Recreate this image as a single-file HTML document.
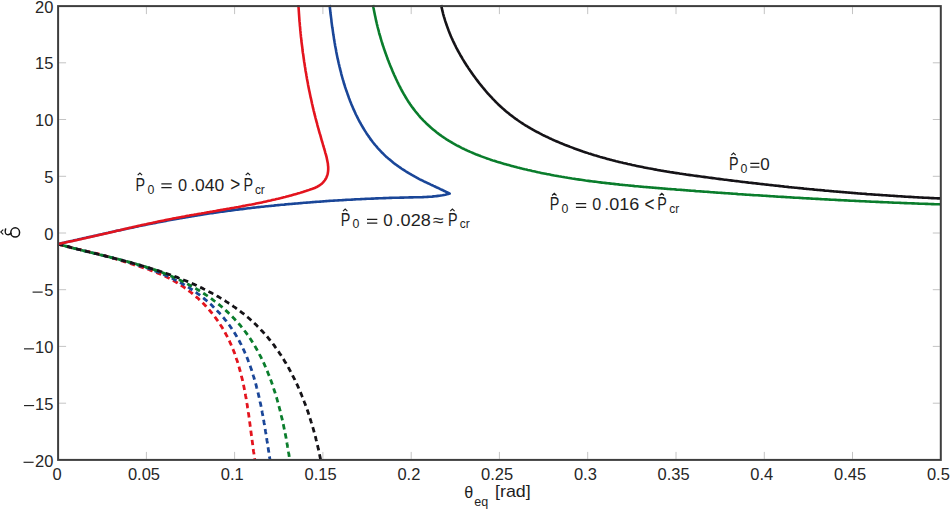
<!DOCTYPE html>
<html><head><meta charset="utf-8"><style>
html,body{margin:0;padding:0;background:#fff;width:951px;height:511px;overflow:hidden}
svg{display:block}
text{font-family:"Liberation Sans",sans-serif}
</style></head><body>
<svg width="951" height="511" viewBox="0 0 951 511">
<rect width="951" height="511" fill="#fff"/>
<g stroke="#c4c4c4" stroke-width="1" fill="none">
<path d="M146.4,458.9 V451.9"/><path d="M146.4,7.1 V14.1"/>
<path d="M234.6,458.9 V451.9"/><path d="M234.6,7.1 V14.1"/>
<path d="M322.9,458.9 V451.9"/><path d="M322.9,7.1 V14.1"/>
<path d="M411.2,458.9 V451.9"/><path d="M411.2,7.1 V14.1"/>
<path d="M499.4,458.9 V451.9"/><path d="M499.4,7.1 V14.1"/>
<path d="M587.7,458.9 V451.9"/><path d="M587.7,7.1 V14.1"/>
<path d="M676.0,458.9 V451.9"/><path d="M676.0,7.1 V14.1"/>
<path d="M764.3,458.9 V451.9"/><path d="M764.3,7.1 V14.1"/>
<path d="M852.5,458.9 V451.9"/><path d="M852.5,7.1 V14.1"/>
<path d="M59.1,62.8 H66.1"/><path d="M939.8,62.8 H932.8"/>
<path d="M59.1,119.5 H66.1"/><path d="M939.8,119.5 H932.8"/>
<path d="M59.1,176.3 H66.1"/><path d="M939.8,176.3 H932.8"/>
<path d="M59.1,233.0 H66.1"/><path d="M939.8,233.0 H932.8"/>
<path d="M59.1,289.7 H66.1"/><path d="M939.8,289.7 H932.8"/>
<path d="M59.1,346.4 H66.1"/><path d="M939.8,346.4 H932.8"/>
<path d="M59.1,403.2 H66.1"/><path d="M939.8,403.2 H932.8"/>
</g>
<g fill="none" stroke-width="2.6" stroke-linejoin="round" stroke-linecap="butt">
<path stroke="#e3141e" stroke-width="2.8" stroke-dasharray="5.4,3.9" d="M58.1,244.0 59.5,244.4 61.0,244.9 62.5,245.3 63.9,245.7 65.4,246.1 66.8,246.5 68.3,246.9 69.8,247.2 71.2,247.6 72.7,247.9 74.2,248.3 75.6,248.6 77.1,249.0 78.6,249.3 80.0,249.6 81.5,250.0 83.0,250.3 84.5,250.6 85.9,251.0 87.4,251.3 88.9,251.6 90.3,252.0 91.8,252.3 93.3,252.7 94.7,253.0 96.2,253.4 97.6,253.7 99.1,254.1 100.5,254.5 102.0,254.9 103.4,255.3 104.9,255.7 106.3,256.1 107.8,256.5 109.2,257.0 110.6,257.4 112.1,257.9 113.5,258.3 114.9,258.7 116.4,259.2 117.8,259.7 119.2,260.1 120.7,260.6 122.1,261.0 123.6,261.5 125.0,261.9 126.4,262.4 127.9,262.8 129.3,263.3 130.8,263.7 132.2,264.2 133.7,264.6 135.1,265.1 136.5,265.5 138.0,266.0 139.4,266.4 140.9,266.9 142.3,267.4 143.7,267.9 145.2,268.3 146.6,268.8 148.0,269.3 149.4,269.8 150.8,270.4 152.3,270.9 153.7,271.4 155.1,272.0 156.5,272.5 157.9,273.1 159.3,273.7 160.6,274.3 162.0,274.9 163.4,275.5 164.8,276.1 166.1,276.8 167.5,277.4 168.8,278.1 170.2,278.8 171.5,279.5 172.8,280.2 174.1,281.0 175.4,281.7 176.7,282.5 178.0,283.3 179.3,284.1 180.6,284.9 181.8,285.8 183.1,286.6 184.3,287.5 185.6,288.3 186.8,289.2 188.0,290.1 189.2,291.1 190.4,292.0 191.6,292.9 192.8,293.9 193.9,294.9 195.1,295.8 196.2,296.8 197.4,297.8 198.5,298.8 199.6,299.9 200.7,300.9 201.8,302.0 202.8,303.0 203.9,304.1 205.0,305.2 206.0,306.3 207.0,307.4 208.0,308.5 209.0,309.7 210.0,310.8 211.0,312.0 211.9,313.1 212.9,314.3 213.8,315.5 214.7,316.7 215.6,317.9 216.5,319.1 217.4,320.3 218.3,321.5 219.1,322.8 219.9,324.0 220.7,325.3 221.5,326.5 222.3,327.8 223.1,329.1 223.9,330.4 224.6,331.7 225.3,333.0 226.0,334.3 226.7,335.6 227.4,336.9 228.1,338.3 228.7,339.6 229.4,340.9 230.0,342.3 230.6,343.6 231.2,345.0 231.8,346.4 232.4,347.8 232.9,349.1 233.5,350.5 234.0,351.9 234.6,353.3 235.1,354.7 235.6,356.1 236.1,357.6 236.5,359.0 237.0,360.4 237.5,361.8 237.9,363.3 238.4,364.7 238.8,366.2 239.2,367.6 239.6,369.1 240.0,370.5 240.4,372.0 240.8,373.4 241.2,374.9 241.5,376.4 241.9,377.8 242.3,379.3 242.6,380.8 242.9,382.3 243.3,383.8 243.6,385.3 243.9,386.8 244.2,388.2 244.5,389.7 244.8,391.2 245.1,392.7 245.4,394.2 245.6,395.7 245.9,397.2 246.2,398.8 246.4,400.3 246.7,401.8 246.9,403.3 247.2,404.8 247.4,406.3 247.6,407.8 247.9,409.3 248.1,410.8 248.3,412.3 248.6,413.9 248.8,415.4 249.0,416.9 249.2,418.4 249.4,419.9 249.6,421.4 249.8,422.9 250.0,424.4 250.2,425.9 250.4,427.4 250.6,428.9 250.8,430.5 251.0,432.0 251.2,433.5 251.4,435.0 251.6,436.4 251.8,437.9 252.0,439.4 252.2,440.9 252.4,442.4 252.6,443.9 252.8,445.4 252.9,446.9 253.1,448.3 253.3,449.8 253.5,451.3 253.8,452.7 254.0,454.2 254.2,455.6 254.4,457.1 254.6,458.6 254.8,460.0"/>
<path stroke="#1a4698" stroke-width="2.8" stroke-dasharray="5.4,3.9" stroke-dashoffset="2" d="M58.1,244.0 59.5,244.4 61.0,244.8 62.4,245.2 63.9,245.6 65.3,246.0 66.8,246.4 68.2,246.7 69.7,247.1 71.1,247.5 72.6,247.9 74.0,248.2 75.5,248.6 76.9,249.0 78.4,249.3 79.8,249.7 81.3,250.1 82.7,250.4 84.2,250.8 85.7,251.1 87.1,251.5 88.6,251.9 90.0,252.2 91.5,252.6 93.0,252.9 94.4,253.3 95.9,253.7 97.4,254.0 98.8,254.4 100.3,254.7 101.8,255.1 103.2,255.5 104.7,255.8 106.2,256.2 107.6,256.6 109.1,257.0 110.6,257.3 112.0,257.7 113.5,258.1 115.0,258.5 116.4,258.9 117.9,259.3 119.4,259.6 120.8,260.0 122.3,260.4 123.7,260.8 125.2,261.3 126.7,261.7 128.1,262.1 129.6,262.5 131.1,262.9 132.5,263.4 134.0,263.8 135.4,264.3 136.9,264.7 138.3,265.2 139.8,265.6 141.2,266.1 142.7,266.6 144.1,267.1 145.5,267.5 147.0,268.0 148.4,268.5 149.8,269.0 151.3,269.6 152.7,270.1 154.1,270.6 155.5,271.2 156.9,271.7 158.4,272.3 159.8,272.8 161.2,273.4 162.6,274.0 163.9,274.6 165.3,275.2 166.7,275.8 168.1,276.4 169.5,277.1 170.8,277.7 172.2,278.3 173.5,279.0 174.9,279.7 176.2,280.4 177.6,281.1 178.9,281.8 180.2,282.5 181.5,283.2 182.8,284.0 184.1,284.7 185.4,285.5 186.7,286.3 188.0,287.0 189.3,287.8 190.5,288.7 191.8,289.5 193.0,290.3 194.3,291.2 195.5,292.0 196.7,292.9 197.9,293.8 199.2,294.7 200.3,295.6 201.5,296.5 202.7,297.5 203.9,298.4 205.0,299.4 206.2,300.3 207.3,301.3 208.5,302.3 209.6,303.3 210.7,304.3 211.8,305.3 212.9,306.4 213.9,307.4 215.0,308.5 216.1,309.5 217.1,310.6 218.1,311.7 219.2,312.8 220.2,313.9 221.2,315.0 222.2,316.1 223.1,317.3 224.1,318.4 225.0,319.6 226.0,320.7 226.9,321.9 227.8,323.1 228.7,324.3 229.6,325.5 230.4,326.7 231.3,328.0 232.1,329.2 233.0,330.4 233.8,331.7 234.6,332.9 235.4,334.2 236.1,335.5 236.9,336.8 237.6,338.1 238.4,339.4 239.1,340.7 239.8,342.0 240.5,343.4 241.2,344.7 241.8,346.0 242.5,347.4 243.1,348.7 243.8,350.1 244.4,351.5 245.0,352.9 245.6,354.2 246.2,355.6 246.8,357.0 247.3,358.4 247.9,359.8 248.4,361.2 249.0,362.7 249.5,364.1 250.0,365.5 250.5,366.9 251.0,368.4 251.5,369.8 252.0,371.3 252.4,372.7 252.9,374.1 253.3,375.6 253.8,377.1 254.2,378.5 254.6,380.0 255.1,381.4 255.5,382.9 255.9,384.4 256.3,385.9 256.6,387.3 257.0,388.8 257.4,390.3 257.8,391.8 258.1,393.2 258.5,394.7 258.8,396.2 259.2,397.7 259.5,399.2 259.8,400.7 260.1,402.1 260.5,403.6 260.8,405.1 261.1,406.6 261.4,408.1 261.7,409.6 262.0,411.1 262.2,412.5 262.5,414.0 262.8,415.5 263.1,417.0 263.3,418.5 263.6,420.0 263.9,421.5 264.1,423.0 264.4,424.4 264.6,425.9 264.9,427.4 265.1,428.9 265.4,430.4 265.6,431.9 265.9,433.4 266.1,434.8 266.3,436.3 266.6,437.8 266.8,439.3 267.0,440.8 267.3,442.3 267.5,443.7 267.7,445.2 267.9,446.7 268.2,448.2 268.4,449.7 268.6,451.1 268.9,452.6 269.1,454.1 269.3,455.6 269.5,457.1 269.8,458.5 270.0,460.0"/>
<path stroke="#0a7d2c" stroke-width="2.8" stroke-dasharray="5.4,3.9" stroke-dashoffset="4" d="M58.1,244.0 59.5,244.4 61.0,244.8 62.4,245.2 63.8,245.6 65.3,246.0 66.7,246.4 68.2,246.8 69.6,247.2 71.0,247.5 72.5,247.9 73.9,248.3 75.4,248.7 76.9,249.0 78.3,249.4 79.8,249.8 81.2,250.1 82.7,250.5 84.2,250.8 85.6,251.2 87.1,251.6 88.5,251.9 90.0,252.3 91.5,252.6 93.0,253.0 94.4,253.3 95.9,253.7 97.4,254.0 98.8,254.4 100.3,254.8 101.8,255.1 103.3,255.5 104.7,255.8 106.2,256.2 107.7,256.5 109.1,256.9 110.6,257.3 112.1,257.6 113.6,258.0 115.0,258.4 116.5,258.7 118.0,259.1 119.4,259.5 120.9,259.9 122.4,260.2 123.9,260.6 125.3,261.0 126.8,261.4 128.3,261.8 129.7,262.2 131.2,262.6 132.6,263.0 134.1,263.4 135.6,263.8 137.0,264.3 138.5,264.7 139.9,265.1 141.4,265.6 142.8,266.0 144.3,266.4 145.7,266.9 147.2,267.4 148.6,267.8 150.0,268.3 151.5,268.8 152.9,269.3 154.3,269.7 155.8,270.2 157.2,270.7 158.6,271.3 160.0,271.8 161.4,272.3 162.9,272.8 164.3,273.4 165.7,273.9 167.1,274.5 168.5,275.1 169.9,275.6 171.3,276.2 172.6,276.8 174.0,277.4 175.4,278.0 176.8,278.6 178.2,279.3 179.5,279.9 180.9,280.6 182.3,281.2 183.6,281.9 185.0,282.6 186.3,283.3 187.6,284.0 189.0,284.7 190.3,285.4 191.6,286.1 193.0,286.9 194.3,287.6 195.6,288.4 196.9,289.2 198.2,289.9 199.5,290.7 200.8,291.5 202.0,292.4 203.3,293.2 204.6,294.0 205.8,294.8 207.1,295.7 208.3,296.5 209.6,297.4 210.8,298.3 212.0,299.2 213.2,300.1 214.4,301.0 215.6,301.9 216.8,302.8 218.0,303.8 219.1,304.7 220.3,305.7 221.5,306.6 222.6,307.6 223.7,308.6 224.9,309.6 226.0,310.6 227.1,311.6 228.2,312.6 229.2,313.7 230.3,314.7 231.4,315.8 232.4,316.8 233.5,317.9 234.5,319.0 235.5,320.1 236.5,321.2 237.5,322.3 238.5,323.4 239.5,324.5 240.5,325.7 241.4,326.8 242.4,328.0 243.3,329.1 244.2,330.3 245.1,331.5 246.0,332.7 246.9,333.9 247.8,335.1 248.6,336.3 249.5,337.6 250.3,338.8 251.1,340.0 251.9,341.3 252.7,342.6 253.5,343.8 254.3,345.1 255.1,346.4 255.8,347.7 256.6,349.0 257.3,350.3 258.0,351.6 258.7,352.9 259.4,354.3 260.1,355.6 260.8,356.9 261.5,358.3 262.1,359.6 262.8,361.0 263.4,362.4 264.1,363.7 264.7,365.1 265.3,366.5 265.9,367.9 266.5,369.3 267.1,370.7 267.7,372.1 268.2,373.5 268.8,374.9 269.4,376.3 269.9,377.7 270.4,379.2 271.0,380.6 271.5,382.0 272.0,383.5 272.5,384.9 273.0,386.3 273.5,387.8 273.9,389.2 274.4,390.7 274.9,392.2 275.3,393.6 275.8,395.1 276.2,396.6 276.7,398.0 277.1,399.5 277.5,401.0 277.9,402.4 278.3,403.9 278.7,405.4 279.1,406.9 279.5,408.4 279.9,409.8 280.3,411.3 280.6,412.8 281.0,414.3 281.3,415.8 281.7,417.3 282.0,418.7 282.4,420.2 282.7,421.7 283.0,423.2 283.4,424.7 283.7,426.2 284.0,427.7 284.3,429.2 284.6,430.6 284.9,432.1 285.2,433.6 285.5,435.1 285.8,436.6 286.1,438.1 286.3,439.5 286.6,441.0 286.9,442.5 287.1,444.0 287.4,445.4 287.6,446.9 287.9,448.4 288.1,449.8 288.4,451.3 288.6,452.8 288.9,454.2 289.1,455.7 289.3,457.1 289.6,458.6 289.8,460.0"/>
<path stroke="#151317" stroke-width="2.8" stroke-dasharray="5.4,3.9" stroke-dashoffset="0" d="M58.1,244.0 59.6,244.4 61.0,244.8 62.5,245.2 63.9,245.6 65.4,246.0 66.8,246.3 68.3,246.7 69.7,247.1 71.2,247.5 72.6,247.9 74.1,248.2 75.6,248.6 77.0,249.0 78.5,249.4 79.9,249.7 81.4,250.1 82.9,250.5 84.3,250.8 85.8,251.2 87.3,251.6 88.7,251.9 90.2,252.3 91.7,252.6 93.1,253.0 94.6,253.4 96.1,253.7 97.5,254.1 99.0,254.5 100.4,254.8 101.9,255.2 103.4,255.6 104.8,255.9 106.3,256.3 107.8,256.7 109.2,257.0 110.7,257.4 112.2,257.8 113.6,258.1 115.1,258.5 116.6,258.9 118.0,259.3 119.5,259.6 121.0,260.0 122.4,260.4 123.9,260.8 125.3,261.2 126.8,261.6 128.3,261.9 129.7,262.3 131.2,262.7 132.6,263.1 134.1,263.5 135.6,263.9 137.0,264.3 138.5,264.8 139.9,265.2 141.4,265.6 142.8,266.0 144.3,266.4 145.7,266.9 147.2,267.3 148.6,267.7 150.1,268.2 151.5,268.6 153.0,269.1 154.4,269.5 155.8,270.0 157.3,270.4 158.7,270.9 160.2,271.4 161.6,271.8 163.0,272.3 164.5,272.8 165.9,273.3 167.3,273.8 168.8,274.3 170.2,274.8 171.6,275.3 173.0,275.9 174.4,276.4 175.9,276.9 177.3,277.4 178.7,278.0 180.1,278.5 181.5,279.1 182.9,279.7 184.3,280.2 185.7,280.8 187.1,281.4 188.5,282.0 189.9,282.6 191.3,283.2 192.7,283.8 194.1,284.4 195.5,285.0 196.9,285.7 198.2,286.3 199.6,287.0 201.0,287.6 202.4,288.3 203.7,289.0 205.1,289.6 206.4,290.3 207.8,291.0 209.1,291.7 210.5,292.4 211.8,293.1 213.2,293.9 214.5,294.6 215.8,295.3 217.1,296.1 218.4,296.8 219.8,297.6 221.1,298.4 222.4,299.2 223.6,300.0 224.9,300.7 226.2,301.6 227.5,302.4 228.7,303.2 230.0,304.0 231.3,304.9 232.5,305.7 233.7,306.6 235.0,307.4 236.2,308.3 237.4,309.2 238.6,310.1 239.8,311.0 241.0,311.9 242.2,312.8 243.4,313.7 244.6,314.7 245.7,315.6 246.9,316.6 248.0,317.5 249.2,318.5 250.3,319.5 251.4,320.5 252.5,321.5 253.6,322.5 254.7,323.5 255.8,324.6 256.8,325.6 257.9,326.7 259.0,327.7 260.0,328.8 261.0,329.9 262.1,331.0 263.1,332.1 264.1,333.2 265.1,334.3 266.0,335.4 267.0,336.5 268.0,337.7 268.9,338.8 269.9,340.0 270.8,341.2 271.7,342.3 272.7,343.5 273.6,344.7 274.5,345.9 275.3,347.1 276.2,348.3 277.1,349.6 277.9,350.8 278.8,352.0 279.6,353.3 280.5,354.5 281.3,355.8 282.1,357.1 282.9,358.3 283.7,359.6 284.5,360.9 285.3,362.2 286.1,363.5 286.8,364.8 287.6,366.1 288.3,367.4 289.1,368.8 289.8,370.1 290.5,371.4 291.2,372.8 291.9,374.1 292.6,375.5 293.3,376.8 294.0,378.2 294.7,379.5 295.3,380.9 296.0,382.3 296.6,383.7 297.3,385.0 297.9,386.4 298.5,387.8 299.1,389.2 299.7,390.6 300.3,392.0 300.9,393.4 301.5,394.8 302.1,396.3 302.7,397.7 303.2,399.1 303.8,400.5 304.3,401.9 304.9,403.4 305.4,404.8 305.9,406.2 306.4,407.7 307.0,409.1 307.5,410.5 308.0,412.0 308.5,413.4 308.9,414.9 309.4,416.3 309.9,417.8 310.3,419.2 310.8,420.7 311.2,422.1 311.7,423.6 312.1,425.1 312.6,426.5 313.0,428.0 313.4,429.4 313.8,430.9 314.2,432.3 314.6,433.8 315.0,435.3 315.4,436.7 315.8,438.2 316.1,439.6 316.5,441.1 316.8,442.6 317.2,444.0 317.5,445.5 317.9,446.9 318.2,448.4 318.6,449.9 318.9,451.3 319.2,452.8 319.5,454.2 319.8,455.7 320.1,457.1 320.4,458.6 320.7,460.0"/>
<path stroke="#1a4698" d="M58.1,244.0 59.6,243.7 61.1,243.3 62.5,243.0 64.0,242.7 65.5,242.3 67.0,242.0 68.4,241.7 69.9,241.3 71.4,241.0 72.9,240.7 74.3,240.3 75.8,240.0 77.3,239.7 78.8,239.3 80.2,239.0 81.7,238.7 83.2,238.3 84.7,238.0 86.1,237.7 87.6,237.3 89.1,237.0 90.6,236.7 92.0,236.4 93.5,236.0 95.0,235.7 96.5,235.4 97.9,235.0 99.4,234.7 100.9,234.4 102.4,234.1 103.8,233.7 105.3,233.4 106.8,233.1 108.3,232.8 109.7,232.4 111.2,232.1 112.7,231.8 114.2,231.5 115.6,231.1 117.1,230.8 118.6,230.5 120.1,230.2 121.5,229.9 123.0,229.6 124.5,229.2 126.0,228.9 127.4,228.6 128.9,228.3 130.4,228.0 131.9,227.7 133.4,227.4 134.8,227.1 136.3,226.7 137.8,226.4 139.3,226.1 140.8,225.8 142.2,225.5 143.7,225.2 145.2,224.9 146.7,224.6 148.2,224.3 149.6,224.0 151.1,223.7 152.6,223.4 154.1,223.1 155.6,222.9 157.0,222.6 158.5,222.3 160.0,222.0 161.5,221.7 163.0,221.4 164.5,221.1 165.9,220.9 167.4,220.6 168.9,220.3 170.4,220.0 171.9,219.8 173.4,219.5 174.8,219.2 176.3,218.9 177.8,218.7 179.3,218.4 180.8,218.1 182.3,217.9 183.8,217.6 185.3,217.4 186.7,217.1 188.2,216.9 189.7,216.6 191.2,216.4 192.7,216.1 194.2,215.9 195.7,215.6 197.2,215.4 198.7,215.1 200.2,214.9 201.7,214.7 203.1,214.4 204.6,214.2 206.1,214.0 207.6,213.7 209.1,213.5 210.6,213.3 212.1,213.1 213.6,212.9 215.1,212.6 216.6,212.4 218.1,212.2 219.6,212.0 221.1,211.8 222.6,211.6 224.1,211.4 225.6,211.2 227.1,211.0 228.6,210.8 230.1,210.6 231.6,210.4 233.1,210.2 234.6,210.0 236.1,209.8 237.6,209.6 239.1,209.4 240.6,209.2 242.1,209.1 243.6,208.9 245.1,208.7 246.6,208.5 248.1,208.3 249.6,208.2 251.1,208.0 252.6,207.8 254.1,207.6 255.6,207.5 257.1,207.3 258.6,207.1 260.1,207.0 261.6,206.8 263.1,206.7 264.7,206.5 266.2,206.3 267.7,206.2 269.2,206.0 270.7,205.9 272.2,205.7 273.7,205.6 275.2,205.4 276.7,205.3 278.2,205.1 279.7,205.0 281.2,204.8 282.7,204.7 284.2,204.6 285.7,204.4 287.2,204.3 288.7,204.1 290.2,204.0 291.7,203.9 293.2,203.7 294.7,203.6 296.2,203.5 297.8,203.4 299.3,203.2 300.8,203.1 302.3,203.0 303.8,202.8 305.3,202.7 306.8,202.6 308.3,202.5 309.8,202.4 311.3,202.2 312.8,202.1 314.3,202.0 315.8,201.9 317.3,201.8 318.8,201.7 320.3,201.6 321.8,201.5 323.3,201.4 324.8,201.3 326.3,201.1 327.9,201.0 329.4,200.9 330.9,200.8 332.4,200.7 333.9,200.6 335.4,200.5 336.9,200.5 338.4,200.4 339.9,200.3 341.4,200.2 342.9,200.1 344.4,200.0 345.9,199.9 347.4,199.8 348.9,199.7 350.5,199.7 352.0,199.6 353.5,199.5 355.0,199.4 356.5,199.3 358.0,199.3 359.5,199.2 361.0,199.1 362.5,199.0 364.0,199.0 365.5,198.9 367.0,198.8 368.6,198.8 370.1,198.7 371.6,198.6 373.1,198.6 374.6,198.5 376.1,198.4 377.6,198.4 379.1,198.3 380.6,198.3 382.2,198.2 383.7,198.1 385.2,198.1 386.7,198.0 388.2,198.0 389.7,197.9 391.2,197.9 392.7,197.8 394.3,197.8 395.8,197.8 397.3,197.7 398.8,197.7 400.3,197.6 401.8,197.6 403.3,197.6 404.9,197.5 406.4,197.5 407.9,197.5 409.4,197.4 410.9,197.4 412.5,197.4 414.0,197.3 415.5,197.3 417.0,197.3 418.5,197.2 420.0,197.2 421.6,197.2 423.1,197.1 424.6,197.0 426.1,197.0 427.6,196.9 429.1,196.8 430.6,196.7 432.1,196.6 433.6,196.4 435.1,196.3 436.6,196.1 438.1,195.9 439.5,195.7 441.0,195.5 442.5,195.3 443.9,195.0 445.4,194.7 446.8,194.3 448.3,194.0 449.7,193.6 L449.7,193.6 448.4,192.9 447.0,192.3 445.7,191.6 444.4,191.0 443.0,190.3 441.7,189.7 440.3,189.1 439.0,188.4 437.6,187.8 436.2,187.2 434.9,186.5 433.5,185.9 432.1,185.2 430.8,184.6 429.4,183.9 428.0,183.3 426.7,182.6 425.3,182.0 423.9,181.3 422.6,180.6 421.2,180.0 419.8,179.3 418.5,178.6 417.1,177.8 415.8,177.1 414.5,176.4 413.1,175.6 411.8,174.9 410.5,174.1 409.2,173.4 407.9,172.6 406.6,171.8 405.3,171.0 404.0,170.1 402.7,169.3 401.4,168.5 400.2,167.6 398.9,166.7 397.7,165.9 396.5,165.0 395.2,164.1 394.0,163.2 392.8,162.2 391.7,161.3 390.5,160.3 389.3,159.3 388.2,158.4 387.1,157.4 385.9,156.4 384.8,155.3 383.8,154.3 382.7,153.2 381.6,152.2 380.6,151.1 379.6,150.0 378.5,148.9 377.5,147.8 376.6,146.6 375.6,145.5 374.6,144.3 373.7,143.2 372.7,142.0 371.8,140.8 370.9,139.6 370.0,138.4 369.2,137.1 368.3,135.9 367.5,134.7 366.6,133.4 365.8,132.1 365.0,130.9 364.2,129.6 363.4,128.3 362.6,127.0 361.9,125.7 361.1,124.4 360.4,123.0 359.6,121.7 358.9,120.4 358.2,119.0 357.5,117.7 356.9,116.3 356.2,115.0 355.5,113.6 354.9,112.2 354.3,110.8 353.6,109.4 353.0,108.0 352.4,106.6 351.8,105.2 351.2,103.8 350.7,102.4 350.1,101.0 349.6,99.6 349.0,98.2 348.5,96.7 348.0,95.3 347.5,93.9 347.0,92.4 346.5,91.0 346.0,89.6 345.5,88.1 345.0,86.7 344.6,85.2 344.1,83.8 343.7,82.3 343.3,80.9 342.8,79.4 342.4,78.0 342.0,76.5 341.6,75.1 341.2,73.6 340.9,72.1 340.5,70.7 340.1,69.2 339.8,67.7 339.4,66.3 339.1,64.8 338.7,63.3 338.4,61.9 338.1,60.4 337.7,58.9 337.4,57.4 337.1,55.9 336.8,54.5 336.5,53.0 336.2,51.5 336.0,50.0 335.7,48.5 335.4,47.0 335.1,45.5 334.9,44.0 334.6,42.5 334.4,41.1 334.1,39.6 333.9,38.1 333.7,36.6 333.4,35.1 333.2,33.6 333.0,32.1 332.8,30.6 332.6,29.1 332.3,27.6 332.1,26.1 331.9,24.6 331.7,23.1 331.5,21.6 331.4,20.1 331.2,18.6 331.0,17.1 330.8,15.5 330.6,14.0 330.4,12.5 330.3,11.0 330.1,9.5 329.9,8.0 329.8,6.5 329.6,5.0"/>
<path stroke="#e3141e" d="M58.1,244.0 59.6,243.7 61.1,243.4 62.5,243.1 64.0,242.8 65.5,242.5 67.0,242.1 68.4,241.8 69.9,241.5 71.4,241.2 72.9,240.9 74.3,240.6 75.8,240.2 77.3,239.9 78.8,239.6 80.2,239.3 81.7,238.9 83.2,238.6 84.6,238.3 86.1,237.9 87.6,237.6 89.1,237.3 90.5,236.9 92.0,236.6 93.5,236.3 94.9,235.9 96.4,235.6 97.9,235.3 99.3,234.9 100.8,234.6 102.3,234.2 103.7,233.9 105.2,233.6 106.7,233.2 108.1,232.9 109.6,232.5 111.1,232.2 112.5,231.9 114.0,231.5 115.5,231.2 116.9,230.8 118.4,230.5 119.9,230.2 121.3,229.8 122.8,229.5 124.3,229.1 125.7,228.8 127.2,228.5 128.7,228.1 130.2,227.8 131.6,227.5 133.1,227.1 134.6,226.8 136.0,226.5 137.5,226.1 139.0,225.8 140.4,225.5 141.9,225.1 143.4,224.8 144.8,224.5 146.3,224.2 147.8,223.8 149.3,223.5 150.7,223.2 152.2,222.9 153.7,222.6 155.1,222.3 156.6,221.9 158.1,221.6 159.6,221.3 161.0,221.0 162.5,220.7 164.0,220.4 165.5,220.1 167.0,219.8 168.4,219.5 169.9,219.2 171.4,218.9 172.9,218.6 174.4,218.3 175.8,218.1 177.3,217.8 178.8,217.5 180.3,217.2 181.8,216.9 183.2,216.7 184.7,216.4 186.2,216.1 187.7,215.8 189.2,215.6 190.7,215.3 192.2,215.0 193.7,214.8 195.1,214.5 196.6,214.3 198.1,214.0 199.6,213.7 201.1,213.5 202.6,213.2 204.1,213.0 205.6,212.7 207.0,212.4 208.5,212.2 210.0,211.9 211.5,211.7 213.0,211.4 214.5,211.2 216.0,210.9 217.5,210.6 219.0,210.4 220.4,210.1 221.9,209.9 223.4,209.6 224.9,209.4 226.4,209.1 227.9,208.8 229.4,208.6 230.8,208.3 232.3,208.0 233.8,207.8 235.3,207.5 236.8,207.2 238.3,207.0 239.7,206.7 241.2,206.4 242.7,206.1 244.2,205.9 245.7,205.6 247.1,205.3 248.6,205.0 250.1,204.7 251.6,204.5 253.1,204.2 254.5,203.9 256.0,203.6 257.5,203.3 258.9,203.0 260.4,202.7 261.9,202.4 263.3,202.1 264.8,201.7 266.3,201.4 267.7,201.1 269.2,200.8 270.7,200.5 272.1,200.1 273.6,199.8 275.0,199.5 276.5,199.1 278.0,198.8 279.4,198.4 280.9,198.1 282.3,197.7 283.8,197.3 285.2,197.0 286.7,196.6 288.2,196.2 289.6,195.8 291.1,195.4 292.5,195.0 294.0,194.6 295.5,194.2 296.9,193.8 298.4,193.3 299.9,192.9 301.3,192.4 302.8,192.0 304.3,191.5 305.8,191.1 307.3,190.6 308.7,190.1 310.2,189.6 311.7,189.1 313.2,188.5 314.6,188.0 316.0,187.3 317.3,186.7 318.6,186.0 319.8,185.2 321.0,184.3 322.1,183.4 323.1,182.4 324.0,181.3 324.9,180.2 325.6,179.0 326.3,177.8 326.8,176.5 327.3,175.2 327.7,173.9 327.9,172.5 328.1,171.1 328.2,169.7 328.2,168.2 328.2,166.8 328.0,165.3 327.9,163.8 327.6,162.3 327.3,160.8 327.0,159.2 326.7,157.7 326.3,156.2 325.9,154.6 325.4,153.1 325.0,151.5 324.6,150.0 324.1,148.5 323.7,147.0 323.2,145.5 322.8,144.0 322.4,142.5 321.9,141.0 321.5,139.6 321.1,138.1 320.7,136.6 320.3,135.2 319.8,133.7 319.4,132.3 319.0,130.9 318.6,129.4 318.2,128.0 317.8,126.6 317.4,125.1 317.1,123.7 316.7,122.3 316.3,120.8 315.9,119.4 315.5,118.0 315.2,116.6 314.8,115.1 314.4,113.7 314.1,112.2 313.7,110.8 313.4,109.4 313.0,107.9 312.7,106.5 312.4,105.0 312.0,103.6 311.7,102.1 311.4,100.6 311.1,99.2 310.7,97.7 310.4,96.2 310.1,94.8 309.8,93.3 309.5,91.8 309.2,90.4 308.9,88.9 308.6,87.4 308.3,85.9 308.0,84.4 307.8,83.0 307.5,81.5 307.2,80.0 306.9,78.5 306.7,77.0 306.4,75.5 306.2,74.0 305.9,72.5 305.6,71.0 305.4,69.5 305.2,68.0 304.9,66.5 304.7,65.0 304.5,63.5 304.2,62.0 304.0,60.5 303.8,59.0 303.6,57.5 303.4,56.0 303.2,54.5 302.9,53.0 302.7,51.5 302.5,50.0 302.4,48.5 302.2,47.0 302.0,45.5 301.8,44.0 301.6,42.5 301.4,41.0 301.3,39.4 301.1,37.9 300.9,36.4 300.8,34.9 300.6,33.4 300.5,31.9 300.3,30.4 300.2,28.9 300.1,27.4 299.9,25.9 299.8,24.4 299.7,22.9 299.5,21.4 299.4,19.9 299.3,18.4 299.2,16.9 299.1,15.4 299.0,13.9 298.9,12.4 298.8,10.9 298.7,9.5 298.6,8.0 298.5,6.5 298.4,5.0"/>
<path stroke="#0a7d2c" d="M373.0,5.0 373.3,6.5 373.5,8.0 373.8,9.5 374.1,10.9 374.4,12.4 374.7,13.9 375.0,15.4 375.3,16.8 375.6,18.3 375.9,19.8 376.2,21.2 376.6,22.7 376.9,24.1 377.3,25.6 377.6,27.0 378.0,28.5 378.4,29.9 378.8,31.4 379.1,32.8 379.5,34.3 380.0,35.7 380.4,37.1 380.8,38.6 381.2,40.0 381.6,41.4 382.1,42.8 382.5,44.3 383.0,45.7 383.5,47.1 383.9,48.5 384.4,49.9 384.9,51.3 385.4,52.7 385.9,54.1 386.4,55.5 386.9,56.9 387.4,58.3 387.9,59.7 388.5,61.1 389.0,62.5 389.6,63.9 390.1,65.3 390.7,66.7 391.3,68.1 391.9,69.5 392.4,70.8 393.0,72.2 393.6,73.6 394.2,75.0 394.9,76.4 395.5,77.7 396.1,79.1 396.8,80.5 397.4,81.8 398.1,83.2 398.7,84.5 399.4,85.9 400.1,87.2 400.8,88.6 401.5,89.9 402.2,91.3 403.0,92.6 403.7,93.9 404.5,95.2 405.2,96.5 406.0,97.8 406.8,99.1 407.6,100.4 408.4,101.7 409.3,102.9 410.1,104.2 411.0,105.4 411.9,106.7 412.8,107.9 413.7,109.1 414.6,110.3 415.5,111.5 416.5,112.7 417.5,113.8 418.4,115.0 419.4,116.1 420.4,117.3 421.4,118.4 422.5,119.5 423.5,120.6 424.6,121.7 425.6,122.7 426.7,123.8 427.8,124.8 428.9,125.8 430.0,126.8 431.1,127.8 432.2,128.7 433.4,129.7 434.5,130.6 435.7,131.6 436.8,132.5 438.0,133.4 439.2,134.3 440.4,135.1 441.6,136.0 442.8,136.8 444.0,137.7 445.3,138.5 446.5,139.3 447.8,140.1 449.0,140.9 450.3,141.6 451.6,142.4 452.8,143.2 454.1,143.9 455.4,144.6 456.7,145.3 458.1,146.0 459.4,146.7 460.7,147.4 462.0,148.1 463.4,148.7 464.7,149.4 466.1,150.0 467.4,150.6 468.8,151.2 470.2,151.9 471.5,152.4 472.9,153.0 474.3,153.6 475.7,154.2 477.1,154.7 478.5,155.3 479.9,155.8 481.3,156.4 482.7,156.9 484.1,157.4 485.5,157.9 487.0,158.4 488.4,158.9 489.8,159.4 491.3,159.9 492.7,160.4 494.2,160.8 495.6,161.3 497.0,161.8 498.5,162.2 499.9,162.6 501.4,163.1 502.9,163.5 504.3,163.9 505.8,164.3 507.2,164.7 508.7,165.1 510.2,165.5 511.6,165.9 513.1,166.3 514.6,166.7 516.0,167.1 517.5,167.5 519.0,167.8 520.4,168.2 521.9,168.6 523.4,168.9 524.8,169.3 526.3,169.6 527.8,170.0 529.3,170.3 530.7,170.6 532.2,171.0 533.7,171.3 535.1,171.6 536.6,171.9 538.1,172.3 539.6,172.6 541.0,172.9 542.5,173.2 544.0,173.5 545.5,173.8 546.9,174.1 548.4,174.3 549.9,174.6 551.4,174.9 552.9,175.2 554.3,175.5 555.8,175.7 557.3,176.0 558.8,176.3 560.3,176.5 561.7,176.8 563.2,177.0 564.7,177.3 566.2,177.5 567.7,177.8 569.1,178.0 570.6,178.2 572.1,178.5 573.6,178.7 575.1,178.9 576.6,179.2 578.0,179.4 579.5,179.6 581.0,179.8 582.5,180.0 584.0,180.2 585.5,180.5 587.0,180.7 588.4,180.9 589.9,181.1 591.4,181.3 592.9,181.5 594.4,181.6 595.9,181.8 597.4,182.0 598.9,182.2 600.3,182.4 601.8,182.6 603.3,182.8 604.8,182.9 606.3,183.1 607.8,183.3 609.3,183.4 610.8,183.6 612.3,183.8 613.8,183.9 615.3,184.1 616.7,184.3 618.2,184.4 619.7,184.6 621.2,184.7 622.7,184.9 624.2,185.0 625.7,185.2 627.2,185.3 628.7,185.5 630.2,185.6 631.7,185.8 633.2,185.9 634.7,186.1 636.2,186.2 637.6,186.3 639.1,186.5 640.6,186.6 642.1,186.7 643.6,186.9 645.1,187.0 646.6,187.1 648.1,187.3 649.6,187.4 651.1,187.5 652.6,187.6 654.1,187.8 655.6,187.9 657.1,188.0 658.6,188.1 660.1,188.3 661.6,188.4 663.1,188.5 664.6,188.6 666.1,188.7 667.6,188.9 669.1,189.0 670.6,189.1 672.1,189.2 673.6,189.3 675.1,189.4 676.6,189.6 678.1,189.7 679.6,189.8 681.1,189.9 682.6,190.0 684.0,190.1 685.5,190.3 687.0,190.4 688.5,190.5 690.0,190.6 691.5,190.7 693.0,190.8 694.5,190.9 696.0,191.1 697.5,191.2 699.0,191.3 700.5,191.4 702.0,191.5 703.5,191.6 705.0,191.7 706.5,191.8 708.0,191.9 709.5,192.0 711.0,192.2 712.5,192.3 714.0,192.4 715.5,192.5 717.0,192.6 718.5,192.7 720.0,192.8 721.5,192.9 723.0,193.0 724.5,193.1 726.0,193.2 727.5,193.3 729.0,193.4 730.5,193.5 732.0,193.6 733.5,193.7 735.0,193.8 736.5,193.9 738.0,194.1 739.5,194.2 741.1,194.3 742.6,194.4 744.1,194.5 745.6,194.6 747.1,194.7 748.6,194.8 750.1,194.9 751.6,195.0 753.1,195.1 754.6,195.2 756.1,195.2 757.6,195.3 759.1,195.4 760.6,195.5 762.1,195.6 763.6,195.7 765.1,195.8 766.6,195.9 768.1,196.0 769.6,196.1 771.1,196.2 772.6,196.3 774.1,196.4 775.6,196.5 777.1,196.6 778.6,196.7 780.1,196.8 781.6,196.9 783.1,196.9 784.6,197.0 786.1,197.1 787.6,197.2 789.1,197.3 790.6,197.4 792.1,197.5 793.6,197.6 795.1,197.7 796.6,197.8 798.1,197.8 799.6,197.9 801.1,198.0 802.6,198.1 804.1,198.2 805.6,198.3 807.1,198.4 808.6,198.4 810.1,198.5 811.7,198.6 813.2,198.7 814.7,198.8 816.2,198.9 817.7,198.9 819.2,199.0 820.7,199.1 822.2,199.2 823.7,199.3 825.2,199.4 826.7,199.4 828.2,199.5 829.7,199.6 831.2,199.7 832.7,199.8 834.2,199.8 835.7,199.9 837.2,200.0 838.7,200.1 840.2,200.1 841.7,200.2 843.2,200.3 844.7,200.4 846.2,200.4 847.7,200.5 849.2,200.6 850.7,200.7 852.2,200.7 853.7,200.8 855.2,200.9 856.7,201.0 858.2,201.0 859.7,201.1 861.2,201.2 862.7,201.2 864.2,201.3 865.7,201.4 867.2,201.5 868.7,201.5 870.3,201.6 871.8,201.7 873.3,201.7 874.8,201.8 876.3,201.9 877.8,201.9 879.3,202.0 880.8,202.1 882.3,202.1 883.8,202.2 885.3,202.3 886.8,202.3 888.3,202.4 889.8,202.5 891.3,202.5 892.8,202.6 894.3,202.7 895.8,202.7 897.3,202.8 898.8,202.8 900.3,202.9 901.8,203.0 903.3,203.0 904.8,203.1 906.3,203.1 907.8,203.2 909.3,203.3 910.8,203.3 912.3,203.4 913.8,203.4 915.3,203.5 916.8,203.5 918.3,203.6 919.8,203.7 921.3,203.7 922.8,203.8 924.3,203.8 925.8,203.9 927.3,203.9 928.8,204.0 930.3,204.0 931.8,204.1 933.3,204.1 934.8,204.2 936.3,204.2 937.8,204.3 939.3,204.3 940.8,204.4"/>
<path stroke="#151317" d="M441.1,5.0 441.4,6.5 441.7,7.9 442.1,9.4 442.4,10.9 442.8,12.3 443.1,13.8 443.5,15.2 443.9,16.6 444.4,18.1 444.8,19.5 445.2,20.9 445.7,22.4 446.2,23.8 446.7,25.2 447.2,26.6 447.7,28.0 448.2,29.4 448.7,30.8 449.3,32.2 449.8,33.6 450.4,35.0 451.0,36.4 451.6,37.8 452.2,39.1 452.8,40.5 453.5,41.9 454.1,43.2 454.8,44.6 455.5,45.9 456.1,47.3 456.8,48.6 457.5,49.9 458.2,51.3 459.0,52.6 459.7,53.9 460.4,55.2 461.2,56.5 462.0,57.8 462.7,59.1 463.5,60.4 464.3,61.7 465.1,63.0 465.9,64.3 466.7,65.6 467.6,66.8 468.4,68.1 469.2,69.3 470.1,70.6 471.0,71.8 471.8,73.1 472.7,74.3 473.6,75.6 474.5,76.8 475.4,78.0 476.3,79.2 477.2,80.4 478.1,81.6 479.0,82.8 480.0,84.0 480.9,85.2 481.9,86.4 482.8,87.5 483.8,88.7 484.8,89.9 485.7,91.0 486.7,92.2 487.7,93.3 488.7,94.4 489.7,95.5 490.8,96.6 491.8,97.7 492.8,98.8 493.9,99.9 494.9,101.0 496.0,102.1 497.0,103.1 498.1,104.2 499.2,105.2 500.3,106.2 501.4,107.2 502.5,108.3 503.7,109.2 504.8,110.2 505.9,111.2 507.1,112.2 508.2,113.1 509.4,114.1 510.6,115.0 511.8,115.9 513.0,116.8 514.2,117.7 515.4,118.6 516.6,119.4 517.8,120.3 519.1,121.2 520.3,122.0 521.6,122.8 522.8,123.6 524.1,124.5 525.4,125.3 526.7,126.0 528.0,126.8 529.3,127.6 530.6,128.4 531.9,129.1 533.2,129.9 534.5,130.6 535.8,131.3 537.1,132.0 538.5,132.7 539.8,133.4 541.2,134.1 542.5,134.8 543.9,135.5 545.2,136.1 546.6,136.8 548.0,137.4 549.3,138.1 550.7,138.7 552.1,139.4 553.4,140.0 554.8,140.6 556.2,141.2 557.6,141.8 559.0,142.4 560.4,143.0 561.8,143.5 563.2,144.1 564.6,144.7 566.0,145.2 567.4,145.8 568.8,146.3 570.2,146.9 571.6,147.4 573.0,147.9 574.4,148.5 575.8,149.0 577.2,149.5 578.7,150.0 580.1,150.5 581.5,151.0 582.9,151.5 584.3,151.9 585.8,152.4 587.2,152.9 588.6,153.4 590.1,153.8 591.5,154.3 592.9,154.7 594.4,155.2 595.8,155.6 597.2,156.0 598.7,156.4 600.1,156.9 601.6,157.3 603.0,157.7 604.5,158.1 605.9,158.5 607.3,158.9 608.8,159.3 610.3,159.7 611.7,160.1 613.2,160.4 614.6,160.8 616.1,161.2 617.5,161.5 619.0,161.9 620.5,162.3 621.9,162.6 623.4,163.0 624.8,163.3 626.3,163.6 627.8,164.0 629.3,164.3 630.7,164.6 632.2,165.0 633.7,165.3 635.1,165.6 636.6,165.9 638.1,166.2 639.6,166.5 641.0,166.8 642.5,167.1 644.0,167.4 645.5,167.7 647.0,168.0 648.4,168.3 649.9,168.5 651.4,168.8 652.9,169.1 654.4,169.4 655.9,169.6 657.3,169.9 658.8,170.2 660.3,170.4 661.8,170.7 663.3,170.9 664.8,171.2 666.3,171.4 667.8,171.7 669.3,171.9 670.7,172.2 672.2,172.4 673.7,172.6 675.2,172.9 676.7,173.1 678.2,173.3 679.7,173.6 681.2,173.8 682.7,174.0 684.2,174.2 685.7,174.4 687.2,174.7 688.7,174.9 690.2,175.1 691.7,175.3 693.2,175.5 694.7,175.7 696.2,175.9 697.7,176.1 699.2,176.3 700.7,176.5 702.2,176.7 703.7,176.9 705.2,177.1 706.7,177.3 708.2,177.5 709.7,177.7 711.2,177.9 712.7,178.1 714.2,178.3 715.7,178.5 717.2,178.7 718.7,178.9 720.2,179.1 721.7,179.3 723.2,179.5 724.6,179.7 726.1,179.8 727.6,180.0 729.1,180.2 730.6,180.4 732.1,180.6 733.6,180.8 735.1,181.0 736.6,181.1 738.1,181.3 739.6,181.5 741.1,181.7 742.6,181.9 744.1,182.0 745.6,182.2 747.1,182.4 748.6,182.6 750.1,182.7 751.6,182.9 753.1,183.1 754.6,183.3 756.1,183.4 757.6,183.6 759.1,183.8 760.6,184.0 762.1,184.1 763.6,184.3 765.1,184.5 766.6,184.6 768.1,184.8 769.6,185.0 771.1,185.1 772.6,185.3 774.1,185.5 775.6,185.6 777.1,185.8 778.6,185.9 780.1,186.1 781.5,186.3 783.0,186.4 784.5,186.6 786.0,186.7 787.5,186.9 789.0,187.1 790.5,187.2 792.0,187.4 793.5,187.5 795.0,187.7 796.5,187.8 798.0,188.0 799.5,188.1 801.0,188.3 802.5,188.4 804.0,188.6 805.5,188.7 807.0,188.9 808.5,189.0 810.0,189.2 811.5,189.3 813.0,189.4 814.5,189.6 816.0,189.7 817.5,189.9 819.0,190.0 820.5,190.1 822.0,190.3 823.5,190.4 825.0,190.6 826.5,190.7 828.0,190.8 829.5,191.0 831.0,191.1 832.5,191.2 834.0,191.4 835.5,191.5 837.0,191.6 838.5,191.8 840.0,191.9 841.5,192.0 843.0,192.1 844.5,192.3 846.0,192.4 847.5,192.5 849.0,192.6 850.5,192.8 852.0,192.9 853.5,193.0 855.0,193.1 856.5,193.2 858.0,193.4 859.5,193.5 861.0,193.6 862.5,193.7 864.0,193.8 865.5,193.9 867.0,194.1 868.5,194.2 870.0,194.3 871.5,194.4 873.0,194.5 874.5,194.6 876.0,194.7 877.5,194.8 879.0,194.9 880.5,195.0 882.0,195.1 883.5,195.2 885.0,195.3 886.5,195.4 888.0,195.5 889.5,195.6 891.0,195.7 892.5,195.8 894.0,195.9 895.5,196.0 897.0,196.1 898.5,196.2 900.1,196.3 901.6,196.4 903.1,196.5 904.6,196.6 906.1,196.7 907.6,196.8 909.1,196.9 910.6,196.9 912.1,197.0 913.6,197.1 915.1,197.2 916.6,197.3 918.1,197.4 919.7,197.5 921.2,197.5 922.7,197.6 924.2,197.7 925.7,197.8 927.2,197.8 928.7,197.9 930.2,198.0 931.7,198.1 933.2,198.1 934.8,198.2 936.3,198.3 937.8,198.4 939.3,198.4 940.8,198.5"/>
</g>
<rect x="58.1" y="6.1" width="882.6999999999999" height="453.79999999999995" fill="none" stroke="#3e3e3e" stroke-width="2"/>
<text transform="translate(52.61,479.80) scale(0.97,1)" font-size="17" fill="#262626">0</text>
<text transform="translate(127.95,479.80) scale(0.97,1)" font-size="17" fill="#262626">0.05</text>
<text transform="translate(220.86,479.80) scale(0.97,1)" font-size="17" fill="#262626">0.1</text>
<text transform="translate(304.49,479.80) scale(0.97,1)" font-size="17" fill="#262626">0.15</text>
<text transform="translate(397.41,479.80) scale(0.97,1)" font-size="17" fill="#262626">0.2</text>
<text transform="translate(481.03,479.80) scale(0.97,1)" font-size="17" fill="#262626">0.25</text>
<text transform="translate(573.90,479.80) scale(0.97,1)" font-size="17" fill="#262626">0.3</text>
<text transform="translate(657.57,479.80) scale(0.97,1)" font-size="17" fill="#262626">0.35</text>
<text transform="translate(750.32,479.80) scale(0.97,1)" font-size="17" fill="#262626">0.4</text>
<text transform="translate(834.11,479.80) scale(0.97,1)" font-size="17" fill="#262626">0.45</text>
<text transform="translate(926.96,479.80) scale(0.97,1)" font-size="17" fill="#262626">0.5</text>
<text transform="translate(35.00,12.70) scale(0.97,1)" font-size="17" fill="#262626">20</text>
<text transform="translate(35.05,69.42) scale(0.97,1)" font-size="17" fill="#262626">15</text>
<text transform="translate(35.00,126.15) scale(0.97,1)" font-size="17" fill="#262626">10</text>
<text transform="translate(44.22,182.87) scale(0.97,1)" font-size="17" fill="#262626">5</text>
<text transform="translate(44.17,239.60) scale(0.97,1)" font-size="17" fill="#262626">0</text>
<text transform="translate(44.22,296.32) scale(0.97,1)" font-size="17" fill="#262626">5</text>
<path d="M32.58,292.12 h10.1" stroke="#262626" stroke-width="1.2"/>
<text transform="translate(35.00,353.05) scale(0.97,1)" font-size="17" fill="#262626">10</text>
<path d="M23.96,348.85 h10.1" stroke="#262626" stroke-width="1.2"/>
<text transform="translate(35.05,409.77) scale(0.97,1)" font-size="17" fill="#262626">15</text>
<path d="M24.01,405.57 h10.1" stroke="#262626" stroke-width="1.2"/>
<text transform="translate(35.00,466.50) scale(0.97,1)" font-size="17" fill="#262626">20</text>
<path d="M23.53,462.30 h10.1" stroke="#262626" stroke-width="1.2"/>
<text transform="translate(135.42,190.50) scale(0.82,1)" font-size="17.5" fill="#1e1e1e">P</text>
<path d="M137.70,175.10 L139.90,173.00 L142.10,175.10" fill="none" stroke="#1e1e1e" stroke-width="1.15"/>
<text transform="translate(147.42,193.60) scale(0.95,1)" font-size="13" fill="#1e1e1e">0</text>
<path d="M161.35,183.85 h10.3 M161.35,187.70 h10.3" stroke="#1e1e1e" stroke-width="1.25" fill="none"/>
<text transform="translate(177.96,190.50) scale(0.96,1)" font-size="17" fill="#1e1e1e">0</text>
<text transform="translate(190.20,190.50) scale(1.03,1)" font-size="17" fill="#1e1e1e">.040</text>
<text transform="translate(230.20,190.80) scale(0.88,1)" font-size="19.5" fill="#1e1e1e">&gt;</text>
<text transform="translate(243.42,190.50) scale(0.82,1)" font-size="17.5" fill="#1e1e1e">P</text>
<path d="M245.70,175.10 L247.90,173.00 L250.10,175.10" fill="none" stroke="#1e1e1e" stroke-width="1.15"/>
<text transform="translate(254.89,193.60) scale(0.92,1)" font-size="13" fill="#1e1e1e">cr</text>
<text transform="translate(340.72,226.00) scale(0.82,1)" font-size="17.5" fill="#1e1e1e">P</text>
<path d="M343.00,211.10 L345.20,209.00 L347.40,211.10" fill="none" stroke="#1e1e1e" stroke-width="1.15"/>
<text transform="translate(352.52,228.10) scale(0.95,1)" font-size="13" fill="#1e1e1e">0</text>
<path d="M367.00,219.35 h10.3 M367.00,223.20 h10.3" stroke="#1e1e1e" stroke-width="1.25" fill="none"/>
<text transform="translate(383.24,226.00) scale(0.997,1)" font-size="17" fill="#1e1e1e">0</text>
<text transform="translate(395.55,226.00) scale(1.065,1)" font-size="17" fill="#1e1e1e">.028</text>
<text transform="translate(432.77,226.00) scale(1.15,1)" font-size="17" fill="#1e1e1e">≈</text>
<text transform="translate(447.92,226.00) scale(0.82,1)" font-size="17.5" fill="#1e1e1e">P</text>
<path d="M450.20,211.10 L452.40,209.00 L454.60,211.10" fill="none" stroke="#1e1e1e" stroke-width="1.15"/>
<text transform="translate(459.69,228.10) scale(0.92,1)" font-size="13" fill="#1e1e1e">cr</text>
<text transform="translate(549.82,210.20) scale(0.82,1)" font-size="17.5" fill="#1e1e1e">P</text>
<path d="M552.10,195.50 L554.30,193.40 L556.50,195.50" fill="none" stroke="#1e1e1e" stroke-width="1.15"/>
<text transform="translate(561.52,212.80) scale(0.95,1)" font-size="13" fill="#1e1e1e">0</text>
<path d="M575.90,203.55 h10.3 M575.90,207.40 h10.3" stroke="#1e1e1e" stroke-width="1.25" fill="none"/>
<text transform="translate(592.37,210.20) scale(0.948,1)" font-size="17" fill="#1e1e1e">0</text>
<text transform="translate(604.36,210.20) scale(1.059,1)" font-size="17" fill="#1e1e1e">.016</text>
<text transform="translate(644.60,210.50) scale(0.88,1)" font-size="19.5" fill="#1e1e1e">&lt;</text>
<text transform="translate(657.32,210.20) scale(0.82,1)" font-size="17.5" fill="#1e1e1e">P</text>
<path d="M659.60,195.50 L661.80,193.40 L664.00,195.50" fill="none" stroke="#1e1e1e" stroke-width="1.15"/>
<text transform="translate(669.29,212.80) scale(0.92,1)" font-size="13" fill="#1e1e1e">cr</text>
<text transform="translate(729.02,170.00) scale(0.82,1)" font-size="17.5" fill="#1e1e1e">P</text>
<path d="M731.30,155.10 L733.50,153.00 L735.70,155.10" fill="none" stroke="#1e1e1e" stroke-width="1.15"/>
<text transform="translate(740.52,172.50) scale(0.95,1)" font-size="13" fill="#1e1e1e">0</text>
<path d="M750.30,163.35 h9.1 M750.30,167.20 h9.1" stroke="#1e1e1e" stroke-width="1.25" fill="none"/>
<text transform="translate(760.34,170.00) scale(1.0,1)" font-size="17" fill="#1e1e1e">0</text>
<text transform="translate(464.16,497.50) scale(0.95,1)" font-size="17" fill="#1e1e1e">θ</text>
<text transform="translate(474.27,505.80) scale(1.0,1)" font-size="12.5" fill="#1e1e1e">eq</text>
<text transform="translate(495.03,496.60) scale(1.05,1)" font-size="17" fill="#1e1e1e">[rad]</text>
<g fill="none" stroke="#141414" stroke-width="1.5" stroke-linecap="round">
<ellipse cx="15.2" cy="232.4" rx="4.4" ry="4.6"/>
<path d="M11.0,233.4 C9.8,234.5 8.2,235.0 6.6,234.4 C5.2,233.8 5.0,231.0 5.6,229.0"/>
<path d="M2.9,229.9 L0.7,232.0 L2.9,234.1" stroke-width="1.1"/>
</g>
</svg>
</body></html>
